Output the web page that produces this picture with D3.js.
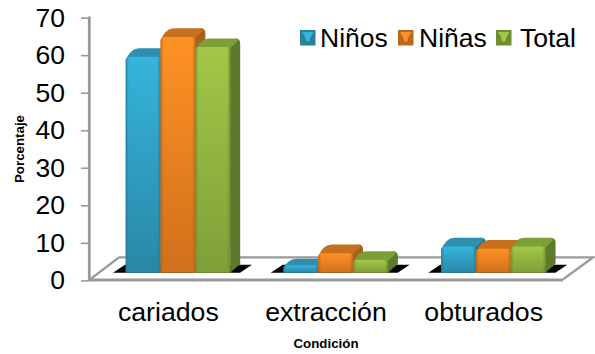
<!DOCTYPE html>
<html>
<head>
<meta charset="utf-8">
<script src="https://cdn.jsdelivr.net/npm/d3@7"></script>
<style>
html,body{margin:0;padding:0;background:#fff}
svg{display:block}
text{font-family:"Liberation Sans",Arial,sans-serif;fill:#000}
</style>
</head>
<body>
<svg id="chart" width="595" height="354"></svg>
<script>
const categories = ["cariados", "extracción", "obturados"];
const seriesNames = ["Niños", "Niñas", "Total"];
const ninos = [57.5, 2, 7];
const ninas = [62.8, 5.2, 6.4];
const total = [60.1, 3.4, 7];
const tickValues = [0, 10, 20, 30, 40, 50, 60, 70];

const palette = {
  "Niños": {top: "#2f8fb0", side: "#1f7089", hi: "#35b4dc", lo: "#2a87a6", edge: "#1e7a96", swatch: "#2a7f9c"},
  "Niñas": {top: "#c4701c", side: "#a8611a", hi: "#ff9224", lo: "#d0701c", edge: "#b0601a", swatch: "#b8691c"},
  "Total": {top: "#7d9f38", side: "#5d7a2c", hi: "#a2c748", lo: "#7f9f38", edge: "#6a8a30", swatch: "#6e8c32"}
};

const svg = d3.select("#chart");
const defs = svg.append("defs");

// Plot geometry: front floor edge, and the receding offset of the 3D floor
const floorFront = 280.4, floorLeft = 90, floorRight = 563;
const floorDx = 29, floorDy = 23;
const barInsetY = 7.7, barDx = 10, barDy = 8.6;

const y = d3.scaleLinear().domain([0, 70]).range([floorFront, 17.6]);
const x = d3.scaleBand().domain(categories).range([floorLeft, floorRight]);
const xInner = d3.scaleBand().domain(seriesNames).range([35.7, 140.2]);

// Shading for the bar faces
seriesNames.forEach((s, i) => {
  const p = palette[s];
  const g = defs.append("linearGradient").attr("id", "front" + i)
    .attr("x1", 0).attr("x2", 0).attr("y1", 0).attr("y2", 1);
  g.append("stop").attr("offset", 0).attr("stop-color", p.hi);
  g.append("stop").attr("offset", 1).attr("stop-color", p.lo);
  const h = defs.append("linearGradient").attr("id", "shade" + i)
    .attr("x1", 0).attr("x2", 1).attr("y1", 0).attr("y2", 0);
  h.append("stop").attr("offset", 0).attr("stop-color", p.edge).attr("stop-opacity", 0.8);
  h.append("stop").attr("offset", 0.09).attr("stop-color", p.edge).attr("stop-opacity", 0);
  h.append("stop").attr("offset", 0.91).attr("stop-color", p.edge).attr("stop-opacity", 0);
  h.append("stop").attr("offset", 1).attr("stop-color", p.edge).attr("stop-opacity", 0.8);
});

// Floor outline
const axisGrey = "#999999";
svg.append("path")
  .attr("d", d3.line()([
    [floorLeft, floorFront - 1], [floorLeft + floorDx, floorFront - floorDy],
    [floorRight + floorDx + 1, floorFront - floorDy], [floorRight, floorFront - 1]
  ]))
  .attr("fill", "none").attr("stroke", axisGrey).attr("stroke-width", 2.4);
svg.append("line")
  .attr("x1", floorLeft - 1).attr("x2", floorRight).attr("y1", floorFront - 0.4).attr("y2", floorFront - 0.4)
  .attr("stroke", axisGrey).attr("stroke-width", 3);

// Value axis
svg.append("line")
  .attr("x1", 89.3).attr("x2", 89.3).attr("y1", y(70) - 1).attr("y2", floorFront + 1)
  .attr("stroke", axisGrey).attr("stroke-width", 2.8);
const axis = d3.axisLeft(y).tickValues(tickValues).tickSize(7).tickPadding(16);
const axisG = svg.append("g").attr("transform", "translate(88,0)").call(axis);
axisG.select(".domain").remove();
axisG.selectAll(".tick line").attr("stroke", axisGrey).attr("stroke-width", 1.6);
axisG.selectAll(".tick text").attr("font-size", 26.5).attr("font-family", '"Liberation Sans",Arial,sans-serif');

// Category groups
const groups = svg.selectAll("g.cat").data(categories).join("g")
  .attr("class", "cat")
  .attr("transform", d => `translate(${x(d)},0)`);

const baseY = floorFront - barInsetY;

// Cast shadows on the floor
groups.append("path")
  .attr("d", () => {
    const a = 23, b = 150;
    return d3.line()([[a, baseY], [a + 12, baseY - 8], [b + 12, baseY - 8], [b, baseY]]);
  })
  .attr("fill", "#000");

const columns = [ninos, ninas, total];

// Front face outline with softened upper corners
function frontPath(bx, bw, top, r) {
  return `M${bx},${baseY} L${bx},${top + r} Q${bx},${top} ${bx + r},${top} L${bx + bw - r},${top} Q${bx + bw},${top} ${bx + bw},${top + r} L${bx + bw},${baseY} Z`;
}

// Draw each series' bars left to right so nearer faces overlap the previous side
groups.each(function (cat, ci) {
  const g = d3.select(this);
  seriesNames.forEach((s, si) => {
    const v = columns[si][ci];
    const p = palette[s];
    const bx = xInner(s), bw = xInner.bandwidth();
    const top = y(v) - barInsetY;
    const h = baseY - top;
    const r = Math.min(4, h * 0.45);
    const dy = Math.min(barDy, 2 + h * 0.6), dx = barDx;
    const c = 5;
    // Right-hand side
    g.append("path")
      .attr("d", `M${bx + bw - 1},${top + 1} L${bx + bw + dx - c},${top - dy} Q${bx + bw + dx},${top - dy} ${bx + bw + dx},${top - dy + c} L${bx + bw + dx},${baseY - dy} L${bx + bw},${baseY} Z`)
      .attr("fill", p.side);
    // Top
    g.append("path")
      .attr("d", `M${bx},${top + r} Q${bx + dx * 0.4},${top - dy * 0.9} ${bx + dx + 3},${top - dy} L${bx + bw + dx - c},${top - dy} Q${bx + bw + dx - 1},${top - dy} ${bx + bw + dx - 3},${top - dy + 3} L${bx + bw},${top + 1} Z`)
      .attr("fill", p.top);
    // Front
    g.append("path").attr("d", frontPath(bx, bw, top, r)).attr("fill", `url(#front${si})`);
    g.append("path").attr("d", frontPath(bx, bw, top, r)).attr("fill", `url(#shade${si})`);
  });
});

// Category labels
groups.append("text")
  .attr("x", x.bandwidth() / 2 - 0.5).attr("y", 321)
  .attr("text-anchor", "middle").attr("font-size", 26.7)
  .text(d => d);

// Axis titles
svg.append("text").attr("x", 326).attr("y", 348).attr("text-anchor", "middle")
  .attr("font-size", 13.3).attr("font-weight", "bold").text("Condición");
svg.append("text").attr("transform", "translate(24,149) rotate(-90)")
  .attr("text-anchor", "middle").attr("font-size", 13.3).attr("font-weight", "bold").text("Porcentaje");

// Legend
const legendX = [300, 398, 496];
const legendText = [320, 419, 520];
const legend = svg.selectAll("g.leg").data(seriesNames).join("g").attr("class", "leg");
legend.each(function (s, i) {
  const g = d3.select(this), p = palette[s];
  const lx = legendX[i], ly = 30, sz = 15.5;
  g.append("rect").attr("x", lx).attr("y", ly).attr("width", sz).attr("height", sz).attr("fill", p.swatch);
  g.append("path").attr("d", `M${lx + 2},${ly + 2} L${lx + sz - 2},${ly + 2} L${lx + sz - 5},${ly + 7} L${lx + sz / 2 + 1.5},${ly + sz - 4} L${lx + sz / 2 - 1.5},${ly + sz - 4} L${lx + 5},${ly + 7} Z`).attr("fill", p.hi);
  g.append("text").attr("x", legendText[i]).attr("y", 46.5).attr("font-size", 26.5).text(s);
});
</script>
</body>
</html>
